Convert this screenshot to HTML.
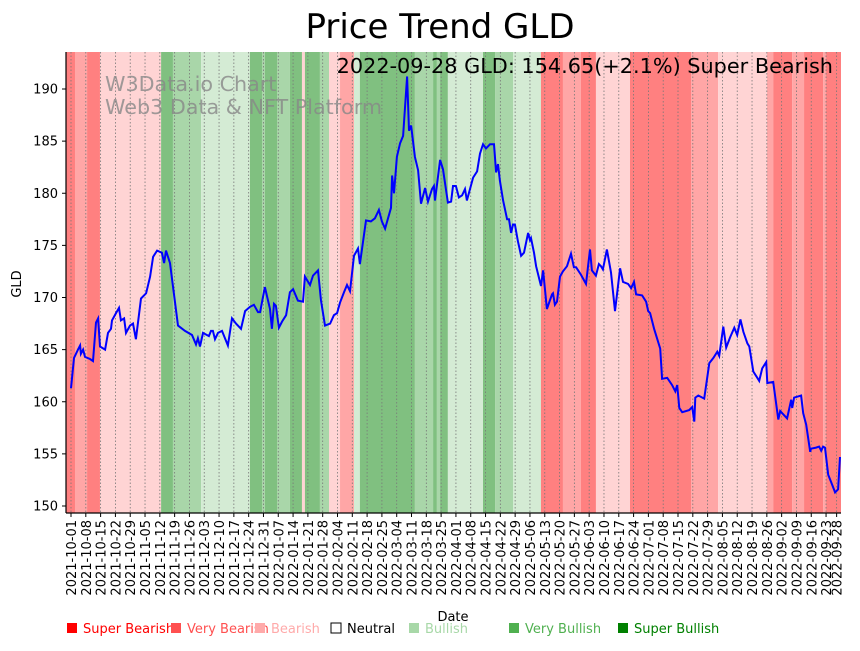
<!DOCTYPE html>
<html><head><meta charset="utf-8"><style>
body{margin:0;background:#fff;font-family:"Liberation Sans","DejaVu Sans",sans-serif}
svg text{font-family:"DejaVu Sans","Liberation Sans",sans-serif}
</style></head><body>
<svg id="c" width="860" height="646" xmlns="http://www.w3.org/2000/svg">
<text x="440" y="38" font-size="34" text-anchor="middle">Price Trend GLD</text>
<g id="bands"></g>
<g id="grid"></g>
<text x="105" y="91" font-size="20.7" fill="#888" opacity="0.8">W3Data.io Chart</text>
<text x="105" y="114" font-size="20.7" fill="#888" opacity="0.8">Web3 Data &amp; NFT Platform</text>
<path id="line" fill="none" stroke="#0000ff" stroke-width="2"/>
<text x="833" y="73" font-size="20.8" text-anchor="end">2022-09-28 GLD: 154.65(+2.1%) Super Bearish</text>
<g id="axes"></g>
<text transform="translate(21,284) rotate(-90)" font-size="13" text-anchor="middle">GLD</text>
<text x="453" y="621" font-size="13" text-anchor="middle">Date</text>
<g id="legend"></g>
</svg>
<script>
const dayOffsets=[0,1.4,3.3,4.3,4.7,5.7,6.6,9,10.4,11.8,12.8,13.7,16.1,17.5,18.9,19.4,21.3,22.7,23.6,25.1,26,27.9,29.3,30.7,33.1,35.5,37.4,38.8,40.7,43,44,44.9,46.8,50.6,53.9,57.2,59.1,60,61,62.4,65.2,66.2,67.1,68.1,69.5,71.4,74.2,76.1,78,80.4,82.3,84.6,86.5,88.4,89.4,91.7,94.1,95,96,96.9,98.3,99.8,101.7,103.5,105,107.3,109.7,110.6,113,114.4,116.8,118.2,120.1,122.5,124.3,125.8,127.2,129.1,130.5,131.9,133.8,135.7,136.6,139.5,141.8,143.7,145.6,147,148.5,151.3,151.8,152.7,154.1,155.6,157,158.9,159.8,160.8,162.6,164.1,165.5,167.4,168.8,170.7,171.6,172.1,174.5,175.9,178.2,179.7,180.6,182,183.4,184.9,186.3,187.2,190.1,192,193.4,194.8,196.2,198.1,200,201,201.9,202.8,204.3,206.2,207.1,208.1,209,209.9,211.3,212.8,214.2,216.1,217,217.5,218.9,219.9,222.2,223.2,225,227.4,227.9,228.8,229.8,231.2,232.6,234.5,236.4,237.8,238.8,241.1,243.5,245.4,246.3,248.2,249.6,250.6,251.5,253.4,255.3,257.2,259.6,261,263.4,264.8,266.2,267.2,270,271.9,272.9,273.8,275.7,278.6,279.5,281.9,284.2,285.7,286.6,287.6,289,292.3,293.7,294.7,295.2,296.6,299.4,301.8,303.7,305.6,306.5,308.4,309.8,311.7,313.6,315,316.5,317.9,319.8,320.7,322.6,324.5,325.4,326.8,328.7,329.2,332,334.4,335.3,338.6,340.5,341,341.9,345.2,346.2,347.6,349.5,349.9,352.3,353.7,354.7,355.6,356.5,358,359.4,361.3,362.7,363.6];
const prices=[161.3,164.2,165,165.4,164.6,165,164.3,164.1,163.9,167.6,168,165.3,165,166.6,167,167.8,168.5,169,167.8,168,166.6,167.3,167.5,166,169.9,170.4,172,173.9,174.5,174.3,173.3,174.5,173.3,167.3,166.8,166.4,165.5,166.1,165.3,166.6,166.3,166.8,166.8,166,166.6,166.8,165.4,168,167.5,167,168.7,169.1,169.3,168.6,168.6,171,168.9,167,169.4,169.2,167.1,167.7,168.3,170.5,170.8,169.7,169.6,172,171.2,172.1,172.6,169.7,167.3,167.5,168.3,168.5,169.5,170.5,171.2,170.6,174,174.7,173.2,177.4,177.3,177.6,178.4,177.3,176.6,178.6,181.7,180,183.5,184.8,185.5,191.2,186,186.5,183.5,182.2,179,180.5,179.2,180.4,180.7,179.3,183.2,182.3,179.1,179.2,180.7,180.7,179.6,179.8,180.4,179.3,181.5,182.1,183.8,184.7,184.3,184.7,184.7,182,182.8,181.2,179.3,177.5,177.5,176.2,177,177,175.4,174,174.3,176.2,175.5,175.7,174.3,173,171.1,172.6,168.9,170.3,170.4,169.3,169.6,172,172.5,173,174.2,172.9,172.9,172.2,171.3,174.6,172.6,172.1,173.2,173,172.7,174.6,172.4,168.7,172.8,171.5,171.3,170.9,171.5,170.3,170.2,169.6,168.7,168.5,167,165.1,162.2,162.3,161.6,161,161.6,159.4,159,159.2,159.5,158.1,160.4,160.6,160.3,163.7,164.2,164.8,164.4,167.2,165.2,166.2,167.1,166.4,167.9,166.7,165.6,165.3,162.9,162.3,162,163.2,163.8,161.8,161.9,158.3,159.1,158.4,160.2,159.4,160.4,160.6,158.9,157.8,155.2,155.5,155.6,155.7,155.3,155.7,155.6,153,152.3,151.3,151.6,154.7];
const bandStarts=[-2.4,1.9,7.6,13.7,42.6,48.2,61.5,84.6,90.3,91.7,97.4,103.5,109.2,110.6,117.7,122,127.2,133.8,136.6,162.6,171.2,173,174.5,178.2,194.8,200.5,209,222.2,232.6,241.1,248.2,264.3,293.2,306,329.1,332,341,346.6,355.6,357];
const bandEnds=[1.9,7.6,13.7,42.6,48.2,61.5,84.6,90.3,91.7,97.4,103.5,109.2,110.6,117.7,122,127.2,133.8,136.6,162.6,171.2,173,174.5,178.2,194.8,200.5,209,222.2,232.6,241.1,248.2,264.3,293.2,306,329.1,332,341,346.6,355.6,357,364.3];
const bandCats=[0,1,0,2,6,5,4,6,5,6,5,6,2,6,5,2,1,4,6,5,6,5,6,4,6,5,4,0,1,0,2,0,1,2,1,0,1,0,1,0];
const yTicks=[150,155,160,165,170,175,180,185,190];
const legendLabels=["Super Bearish","Very Bearish","Bearish","Neutral","Bullish","Very Bullish","Super Bullish"];
const NS="http://www.w3.org/2000/svg";
const bandColors=["#ff8080","#ffa6a6","#ffd4d4","#fff","#d4ebd4","#a9d6a9","#80c080"];
const legColors=["#ff0000","#ff5050","#ffaaaa","#fff","#a8d8a8","#50b050","#008000"];
const legText=["#ff0000","#ff5050","#ffaaaa","#000","#a8d8a8","#50b050","#008000"];
const legX=[66,170,254,330,408,508,617];
const X0=66,X1=841,Y0=52,Y1=513;
const x=d=>71+d*2.115;
const y=v=>506-(v-150)*10.425;
function el(t,a,p){const e=document.createElementNS(NS,t);for(const k in a)e.setAttribute(k,a[k]);p.appendChild(e);return e;}
const bg=document.getElementById('bands');
bandStarts.forEach((s,i)=>{
  const x0=Math.max(X0,x(s)),x1=Math.min(X1,x(bandEnds[i]));
  const r=el('rect',{x:x0,y:Y0,width:x1-x0,height:Y1-Y0,fill:bandColors[bandCats[i]]},bg);
  
  
});
const start=new Date(Date.UTC(2021,9,1));
const ticks=[];for(let d=0;d<=357;d+=7)ticks.push(d);ticks.push(362);
const fmt=d=>{const t=new Date(start.getTime()+d*864e5);return t.toISOString().slice(0,10);};
const gg=document.getElementById('grid'),ax=document.getElementById('axes');
ticks.forEach(d=>{
  const g=el('line',{x1:x(d),x2:x(d),y1:Y0,y2:Y1,stroke:'#777','stroke-width':0.8,'stroke-dasharray':'1.5,2'},gg);
  
  
  el('line',{x1:x(d),x2:x(d),y1:Y1,y2:Y1+4,stroke:'#000'},ax);
  const t=el('text',{transform:`translate(${x(d)+5},${Y1+7}) rotate(-90)`,'font-size':13,'text-anchor':'end'},ax);
  
  
  t.textContent=fmt(d);
});
yTicks.forEach(v=>{
  el('line',{x1:X0-4,x2:X0,y1:y(v),y2:y(v),stroke:'#000'},ax);
  const t=el('text',{x:X0-8,y:y(v)+4.5,'font-size':13,'text-anchor':'end'},ax);
  
  
  t.textContent=v;
});
el('line',{x1:X0,x2:X0,y1:Y0,y2:Y1,stroke:'#000','stroke-width':1.2},ax);
el('line',{x1:X0,x2:X1,y1:Y1,y2:Y1,stroke:'#000','stroke-width':1.2},ax);
document.getElementById('line').setAttribute('d',dayOffsets.map((d,i)=>(i?'L':'M')+x(d).toFixed(1)+','+y(prices[i]).toFixed(1)).join(''));
const lg=document.getElementById('legend');
legendLabels.forEach((l,i)=>{
  const g=el('g',{},lg);
  
  
  el('rect',{x:legX[i]+1,y:623,width:10,height:10,fill:legColors[i],stroke:i==3?'#000':'none'},g);
  const t=el('text',{x:legX[i]+17,y:633,'font-size':13,fill:legText[i]},g);
  t.textContent=l;
});
</script>
</body></html>
